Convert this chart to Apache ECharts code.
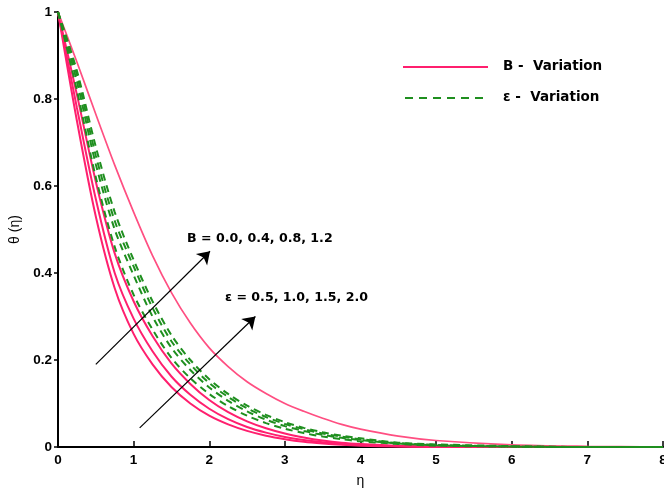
<!DOCTYPE html>
<html><head><meta charset="utf-8">
<script src="https://cdn.jsdelivr.net/npm/echarts@6/dist/echarts.min.js"></script>
<style>html,body{margin:0;padding:0;background:#fff;overflow:hidden}#c{width:664px;height:492px}</style>
</head><body><div id="c"></div>
<script>
const eta = [0,0.25,0.5,0.75,1,1.25,1.5,1.75,2,2.25,2.5,2.75,3,3.25,3.5,3.75,4,4.5,5,6,7,8];
const xTicks = ['0','1','2','3','4','5','6','7','8'];
const yTicks = ['0','0.2','0.4','0.6','0.8','1'];
// B variation (pink)
const B00 = [1,0.75,0.53,0.365,0.26,0.19,0.138,0.1,0.072,0.052,0.037,0.026,0.018,0.012,0.008,0.005,0.003,0.001,0,0,0,0];
const B04 = [1,0.78,0.57,0.40,0.295,0.22,0.162,0.12,0.088,0.064,0.046,0.033,0.023,0.016,0.011,0.007,0.005,0.002,0.001,0,0,0];
const B08 = [1,0.81,0.61,0.445,0.335,0.255,0.192,0.145,0.108,0.08,0.059,0.043,0.031,0.022,0.015,0.01,0.007,0.003,0.001,0,0,0];
const B12 = [1,0.885,0.765,0.648,0.54,0.44,0.355,0.285,0.228,0.185,0.15,0.123,0.10,0.082,0.066,0.052,0.041,0.025,0.015,0.005,0.0015,0];
// epsilon variation (green dashed)
const E05 = [1,0.82,0.62,0.46,0.35,0.27,0.205,0.158,0.122,0.094,0.072,0.055,0.042,0.032,0.024,0.018,0.013,0.007,0.003,0.001,0,0];
const E10 = [1,0.84,0.65,0.50,0.395,0.30,0.228,0.177,0.137,0.106,0.082,0.063,0.048,0.037,0.028,0.021,0.016,0.008,0.004,0.001,0,0];
const E15 = [1,0.855,0.67,0.52,0.415,0.32,0.243,0.19,0.147,0.115,0.089,0.069,0.053,0.041,0.031,0.024,0.018,0.009,0.005,0.001,0,0];
const E20 = [1,0.865,0.69,0.54,0.43,0.335,0.257,0.20,0.156,0.122,0.095,0.074,0.057,0.044,0.034,0.026,0.02,0.01,0.006,0.002,0,0];
const pinkSets = [B00,B04,B08,B12];
const greenSets = [E05,E10,E15,E20];
const labelB = 'B -  Variation';
const labelE = 'ε -  Variation';
const textB = 'B = 0.0, 0.4, 0.8, 1.2';
const textE = 'ε = 0.5, 1.0, 1.5, 2.0';
const arrowB = [[0.50,0.19],[2.01,0.45]];
const arrowE = [[1.08,0.044],[2.61,0.30]];

const PINK = '#ff1f6e', PINK2 = '#ff4f82', GREEN = '#1f8f1f';
const fontA = 'Arial, "Liberation Sans", sans-serif';
const fontD = '"DejaVu Sans", sans-serif';
const pair = (arr) => eta.map((x,i)=>[x,arr[i]]);
const series = [];
pinkSets.forEach((s,i)=>series.push({name:labelB,type:'line',data:pair(s),smooth:0.3,symbol:'none',
  lineStyle:{color: i===3?PINK2:PINK,width:i===3?1.7:2},itemStyle:{color:PINK},z:2}));
greenSets.forEach((s,i)=>series.push({name:labelE,type:'line',data:pair(s),smooth:0.3,symbol:'none',
  lineStyle:{color:GREEN,width:2,type:[7,5]},itemStyle:{color:GREEN},z:3}));
const arrowSeries = (pts)=>({type:'line',data:[],silent:true,markLine:{silent:true,animation:false,symbol:['none','arrow'],symbolSize:12,
  lineStyle:{color:'#000',width:1.2,type:'solid'},itemStyle:{color:'#000'},label:{show:false},emphasis:{disabled:true},
  data:[[{coord:pts[0]},{coord:pts[1]}]]}});
series.push(arrowSeries(arrowB), arrowSeries(arrowE));

const chart = echarts.init(document.getElementById('c'),null,{renderer:'canvas',width:664,height:492});
chart.setOption({
  animation:false,
  grid:{left:58,right:1,top:12,bottom:45,containLabel:false,outerBoundsMode:'none'},
  xAxis:{type:'value',min:0,max:8,interval:1,name:'η',nameLocation:'middle',nameGap:27,
    nameTextStyle:{fontFamily:fontA,fontSize:14,color:'#000'},
    axisLine:{lineStyle:{color:'#000',width:2}},axisTick:{inside:true,length:6,lineStyle:{color:'#000',width:1.5}},
    axisLabel:{fontFamily:fontA,fontWeight:'bold',fontSize:13.5,color:'#000',margin:6,formatter:(v)=>xTicks[v]},
    splitLine:{show:false}},
  yAxis:{type:'value',min:0,max:1,interval:0.2,name:'θ (η)',nameLocation:'middle',nameGap:31,nameRotate:90,
    nameTextStyle:{fontFamily:fontA,fontSize:14,color:'#000'},
    axisLine:{lineStyle:{color:'#000',width:2}},axisTick:{inside:false,length:4,lineStyle:{color:'#000',width:1.5}},
    axisLabel:{fontFamily:fontA,fontWeight:'bold',fontSize:13.5,color:'#000',margin:6,formatter:(v)=>yTicks[Math.round(v*5)]},
    splitLine:{show:false}},
  graphic:[
    {type:'line',shape:{x1:403,y1:67,x2:488,y2:67},style:{stroke:PINK,lineWidth:2}},
    {type:'line',shape:{x1:405,y1:98,x2:487,y2:98},style:{stroke:GREEN,lineWidth:2,lineDash:[8,6]}},
    {type:'text',left:503,top:59,style:{text:labelB,font:'bold 13.5px '+fontD,fill:'#000'}},
    {type:'text',left:503,top:90,style:{text:labelE,font:'bold 13.5px '+fontD,fill:'#000'}},
    {type:'text',left:187,top:232,style:{text:textB,font:'bold 12.6px '+fontD,fill:'#000'}},
    {type:'text',left:225,top:291,style:{text:textE,font:'bold 12.6px '+fontD,fill:'#000'}}
  ],
  series:series
});
</script></body></html>
